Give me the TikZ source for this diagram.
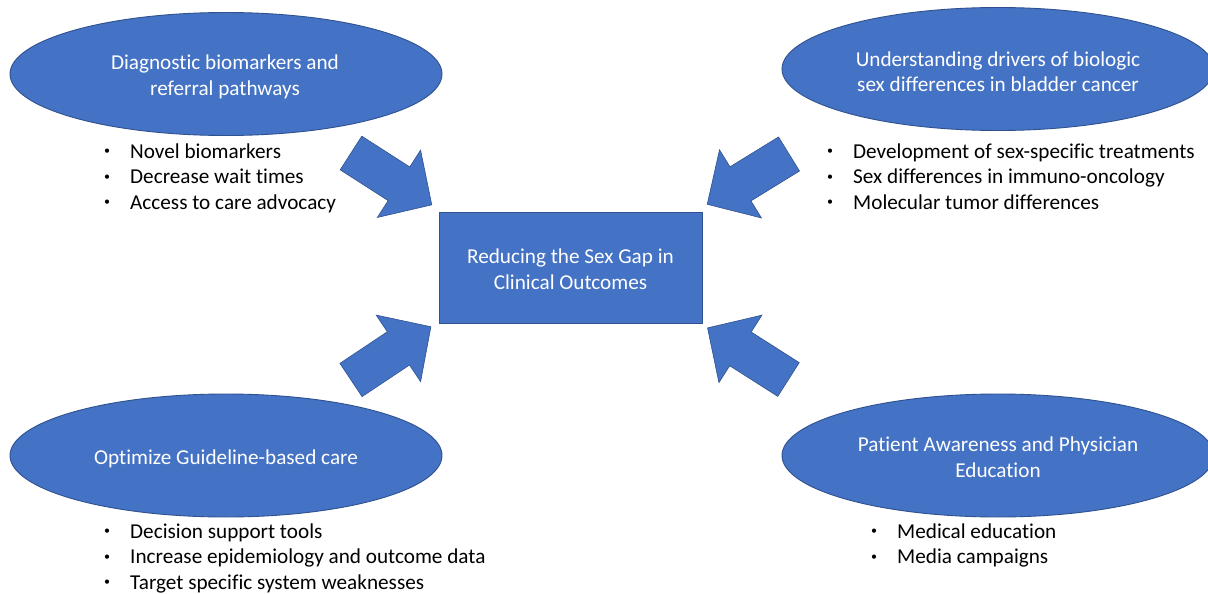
\documentclass[tikz,border=0pt]{standalone}
\usepackage{fontspec}
\setmainfont{Carlito}[Ligatures=NoCommon]
\usetikzlibrary{shapes.geometric}
\definecolor{boxblue}{HTML}{4472C4}
\definecolor{edgeblue}{HTML}{2F528F}
\tikzset{
  basefont/.style={font=\fontsize{21.2}{25.5}\selectfont},
  oval/.style={ellipse, fill=boxblue, draw=edgeblue, line width=0.9pt, minimum width=432pt, minimum height=123pt, inner sep=0pt},
  ovaltext/.style={text=white, align=center, basefont, inner sep=0pt},
  centerbox/.style={rectangle, fill=boxblue, draw=edgeblue, line width=0.9pt, minimum width=263pt, minimum height=111pt},
  item/.style={anchor=base west, inner sep=0pt, basefont, text=black},
  blockarrow/.pic={\filldraw[fill=boxblue, draw=edgeblue, line width=0.6pt]
     (0,-20) -- (57,-20) -- (57,-40) -- (96,0) -- (57,40) -- (57,20) -- (0,20) -- cycle;}
}
\newcommand{\bul}{\llap{\makebox[0pt][c]{\raisebox{3.2pt}{\fontsize{12}{12}\selectfont •}}\hspace{23pt}}}
\begin{document}
\begin{tikzpicture}[x=1pt,y=-1pt]
\useasboundingbox (0,0) rectangle (1208,594);
\clip (0,0) rectangle (1208,594);
\fill[white] (0,0) rectangle (1208,594);

% ellipses
\node[oval] (tl) at (226,74) {};
\node[oval] (tr) at (998,69) {};
\node[oval] (bl) at (226,455.5) {};
\node[oval] (br) at (998,455.5) {};
\node[ovaltext] (tlt) at (225,77) {Diagnostic biomarkers and\\referral pathways};
\node[ovaltext] (trt) at (998,71.5) {Understanding drivers of biologic\\sex differences in bladder cancer};
\node[ovaltext] (blt) at (226,458.5) {Optimize Guideline-based care};
\node[ovaltext] (brt) at (998,457) {Patient Awareness and Physician\\Education};

% center box
\node[centerbox] (c) at (570.5,267.5) {};
\node[ovaltext] (ct) at (570.5,269) {Reducing the Sex Gap in\\Clinical Outcomes};

% block arrows
\pic[rotate=-32.7] at (351,153) {blockarrow};
\pic[rotate=-148.4] at (789,154) {blockarrow};
\pic[rotate=33.7] at (351,380) {blockarrow};
\pic[rotate=147.5] at (788.5,379.5) {blockarrow};

% lists
\node[item] (tl1) at (130,158) {\bul Novel biomarkers};
\node[item] (tl2) at (130,183.5) {\bul Decrease wait times};
\node[item] (tl3) at (130,209) {\bul Access to care advocacy};

\node[item] (tr1) at (853,158) {\bul Development of sex-specific treatments};
\node[item] (tr2) at (853,183.5) {\bul Sex differences in immuno-oncology};
\node[item] (tr3) at (853,209) {\bul Molecular tumor differences};

\node[item] (bl1) at (130,538) {\bul Decision support tools};
\node[item] (bl2) at (130,563.5) {\bul Increase epidemiology and outcome data};
\node[item] (bl3) at (130,589) {\bul Target specific system weaknesses};

\node[item] (br1) at (897,538) {\bul Medical education};
\node[item] (br2) at (897,563.5) {\bul Media campaigns};
\end{tikzpicture}
\end{document}
